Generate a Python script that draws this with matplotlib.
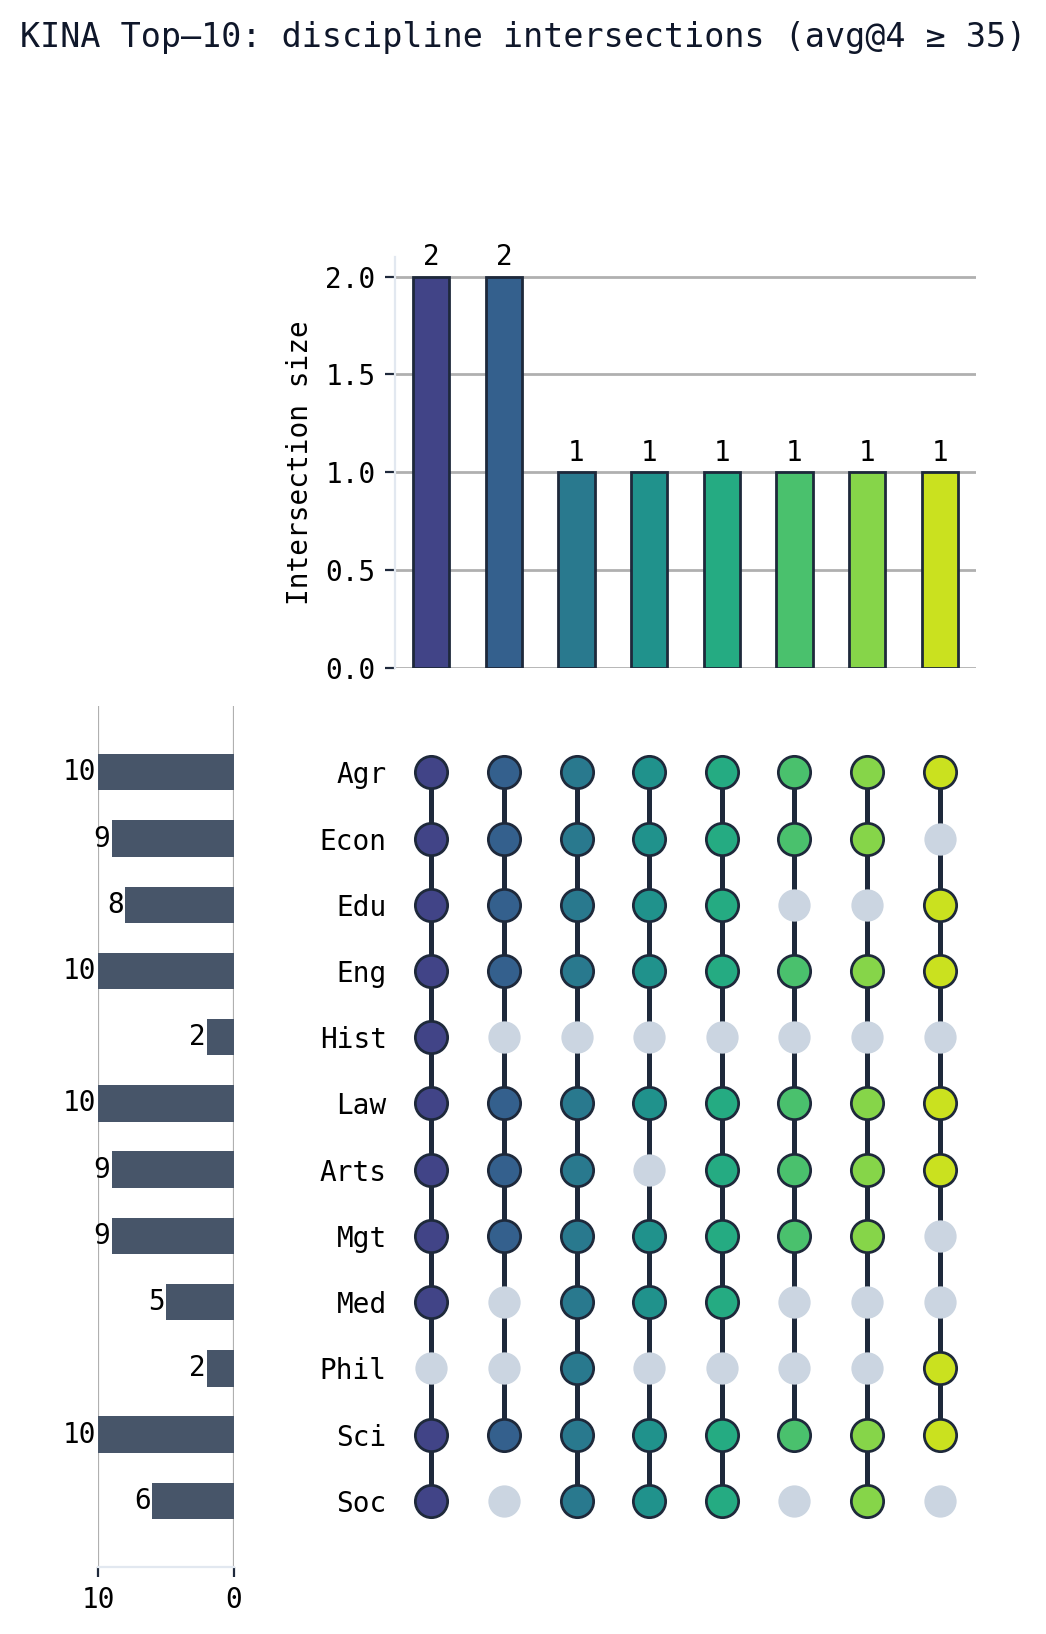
import numpy as np
import matplotlib.pyplot as plt

plt.rcParams['font.family'] = ['DejaVu Sans Mono', 'DejaVu Sans']
plt.rcParams['font.size'] = 10

# data
sets = ["Agr", "Econ", "Edu", "Eng", "Hist", "Law", "Arts", "Mgt", "Med", "Phil", "Sci", "Soc"]
set_sizes = [10, 9, 8, 10, 2, 10, 9, 9, 5, 2, 10, 6]
inter_sizes = [2, 2, 1, 1, 1, 1, 1, 1]
# membership of each intersection (column) by set name
members = [
    ["Agr", "Econ", "Edu", "Eng", "Hist", "Law", "Arts", "Mgt", "Med", "Sci", "Soc"],
    ["Agr", "Econ", "Edu", "Eng", "Law", "Arts", "Mgt", "Sci"],
    ["Agr", "Econ", "Edu", "Eng", "Law", "Arts", "Mgt", "Med", "Phil", "Sci", "Soc"],
    ["Agr", "Econ", "Edu", "Eng", "Law", "Mgt", "Med", "Sci", "Soc"],
    ["Agr", "Econ", "Edu", "Eng", "Law", "Arts", "Mgt", "Med", "Sci", "Soc"],
    ["Agr", "Econ", "Eng", "Law", "Arts", "Mgt", "Sci"],
    ["Agr", "Econ", "Eng", "Law", "Arts", "Mgt", "Sci", "Soc"],
    ["Agr", "Edu", "Eng", "Law", "Arts", "Phil", "Sci"],
]

dark = "#1e293b"
grey_dot = "#cbd5e1"
bar_grey = "#475569"
spine_light = "#e2e8f0"
colors = plt.cm.viridis(np.linspace(0.2, 0.92, len(inter_sizes)))

fig = plt.figure(figsize=(5.23, 8.17), dpi=200)
ax_top = fig.add_axes([0.3776, 0.5912, 0.5555, 0.2515])
ax_mat = fig.add_axes([0.3776, 0.0410, 0.5555, 0.5269])
ax_left = fig.add_axes([0.0937, 0.0410, 0.1300, 0.5269])

fig.suptitle("KINA Top\u201310: discipline intersections (avg@4 \u2265 35)",
             fontsize=12, color="#0f172a", y=0.987)

# intersection size bars
x = np.arange(len(inter_sizes))
ax_top.bar(x, inter_sizes, width=0.5, color=colors, edgecolor=dark, linewidth=1, zorder=3)
for xi, v in zip(x, inter_sizes):
    ax_top.annotate(str(v), (xi, v), xytext=(0, 2), textcoords="offset points",
                    ha="center", va="bottom")
ax_top.set_xlim(-0.5, len(inter_sizes) - 0.5)
ax_top.set_ylim(0, 2.1)
ax_top.set_yticks([0, 0.5, 1.0, 1.5, 2.0])
ax_top.set_xticks([])
ax_top.set_ylabel("Intersection size")
ax_top.grid(axis="y", color="#b0b0b0", linewidth=1, zorder=0)
for s in ["top", "right", "bottom"]:
    ax_top.spines[s].set_visible(False)
ax_top.spines["left"].set_color(spine_light)
ax_top.tick_params(axis="y", color=dark)

# matrix
rows = np.arange(len(sets))
for j, mem in enumerate(members):
    idx = [sets.index(m) for m in mem]
    ax_mat.plot([j, j], [min(idx), max(idx)], color=dark, linewidth=1.8, zorder=1)
    inside = np.isin(rows, idx)
    ax_mat.scatter(np.full((~inside).sum(), j), rows[~inside], s=135,
                   color=grey_dot, linewidths=0, zorder=2)
    ax_mat.scatter(np.full(inside.sum(), j), rows[inside], s=135,
                   color=colors[j], edgecolors=dark, linewidths=1, zorder=3)
ax_mat.set_xlim(-0.5, len(inter_sizes) - 0.5)
ax_mat.set_ylim(len(sets), -1)
ax_mat.set_yticks(rows)
ax_mat.set_yticklabels(sets)
ax_mat.set_xticks([])
ax_mat.tick_params(axis="y", length=0, pad=3)
for s in ax_mat.spines.values():
    s.set_visible(False)

# set size bars
ax_left.barh(rows, set_sizes, height=0.55, color=bar_grey, zorder=3)
for r, v in zip(rows, set_sizes):
    ax_left.annotate(str(v), (v, r), xytext=(-0.5, 0), textcoords="offset points",
                     ha="right", va="center")
ax_left.set_xlim(10, 0)
ax_left.set_ylim(len(sets), -1)
ax_left.set_xticks([10, 0])
ax_left.set_yticks([])
ax_left.grid(axis="x", color="#b0b0b0", linewidth=0.8, zorder=0)
for s in ["top", "right", "left"]:
    ax_left.spines[s].set_visible(False)
ax_left.spines["bottom"].set_color(spine_light)
ax_left.tick_params(axis="x", color=dark)

fig.savefig("out.png", dpi=200)
